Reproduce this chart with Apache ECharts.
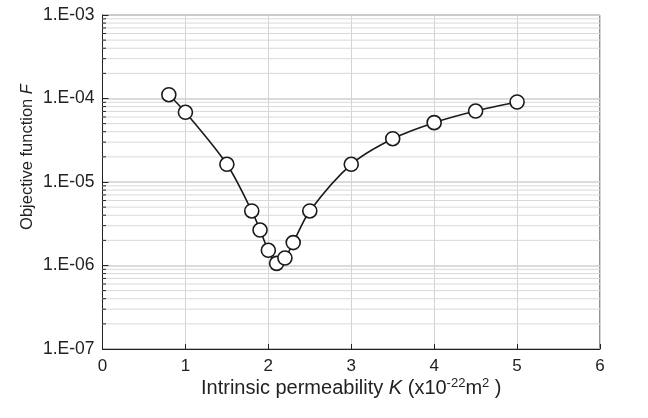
<!DOCTYPE html>
<html>
<head>
<meta charset="utf-8">
<script src="https://cdn.jsdelivr.net/npm/echarts@6/dist/echarts.min.js"></script>
<style>html,body{margin:0;padding:0;background:#fff}#c{width:648px;height:418px}</style>
</head>
<body>
<div id="c"></div>
<script>
const permeability = [0.8, 1.0, 1.5, 1.8, 1.9, 2.0, 2.1, 2.2, 2.3, 2.5, 3.0, 3.5, 4.0, 4.5, 5.0];
const objective = [1.11e-4, 6.84e-5, 1.63e-5, 4.5e-6, 2.66e-6, 1.52e-6, 1.06e-6, 1.23e-6, 1.88e-6, 4.5e-6, 1.63e-5, 3.3e-5, 5.14e-5, 7.08e-5, 9.08e-5];
const xTicks = [0, 1, 2, 3, 4, 5, 6];
const yDecades = [-7, -6, -5, -4, -3];
const minorMultipliers = [2, 3, 4, 5, 6, 7, 8, 9];

const minorValues = [];
for (let i = 0; i < yDecades.length - 1; i++) {
  for (const m of minorMultipliers) minorValues.push(m * Math.pow(10, yDecades[i]));
}

function fmtY(v) {
  const e = Math.round(Math.log10(v));
  const a = Math.abs(e);
  return '1.E' + (e < 0 ? '-' : '+') + (a < 10 ? '0' + a : a);
}

const FONT = '"Liberation Sans", Arial, sans-serif';
const xMin = xTicks[0], xMax = xTicks[xTicks.length - 1];
const chart = echarts.init(document.getElementById('c'), null, {renderer: 'canvas'});
chart.setOption({
  animation: false,
  grid: {left: 102.5, right: 48, top: 15, bottom: 69, show: true, borderColor: '#222', borderWidth: 1},
  xAxis: {
    type: 'value', min: xMin, max: xMax, interval: 1,
    axisLine: {lineStyle: {color: '#222', width: 1}},
    axisTick: {inside: true, length: 5, lineStyle: {color: '#222'}},
    axisLabel: {color: '#222', fontFamily: FONT, fontSize: 17, margin: 9},
    splitLine: {show: true, lineStyle: {color: '#d4d4d4', width: 1}},
    name: 'Intrinsic permeability {i|K} (x10{sup|-22}m{sup|2} )',
    nameLocation: 'middle', nameGap: 28, nameMoveOverlap: false,
    nameTextStyle: {
      color: '#222', fontFamily: FONT, fontSize: 20,
      rich: {
        i: {fontStyle: 'italic', fontFamily: FONT, fontSize: 20, color: '#222'},
        sup: {fontFamily: FONT, fontSize: 13, color: '#222', verticalAlign: 'top', padding: [0, 0, 9, 0]}
      }
    }
  },
  yAxis: {
    type: 'log', logBase: 10,
    min: Math.pow(10, yDecades[0]), max: Math.pow(10, yDecades[yDecades.length - 1]),
    axisLine: {lineStyle: {color: '#222', width: 1}},
    axisTick: {inside: true, length: 6, lineStyle: {color: '#222'}},
    axisLabel: {color: '#222', fontFamily: FONT, fontSize: 17.5, margin: 8, formatter: fmtY},
    splitLine: {show: true, lineStyle: {color: '#cfcfcf', width: 1.5}},
    name: 'Objective function {i|F}',
    nameLocation: 'middle', nameGap: 67, nameMoveOverlap: false,
    nameTextStyle: {
      color: '#222', fontFamily: FONT, fontSize: 16.5, padding: [0, 0, 0, 50],
      rich: {i: {fontStyle: 'italic', fontFamily: FONT, fontSize: 16.5, color: '#222'}}
    }
  },
  series: [
    {
      type: 'custom', silent: true, z: 1,
      data: minorValues,
      encode: {y: 0},
      renderItem: function (params, api) {
        const v = api.value(0);
        const p0 = api.coord([xMin, v]);
        const p1 = api.coord([xMax, v]);
        return {
          type: 'group',
          children: [
            {type: 'line', shape: {x1: p0[0], y1: p0[1], x2: p1[0], y2: p1[1]},
             style: {stroke: '#d9d9d9', lineWidth: 1}},
            {type: 'line', z2: 10, shape: {x1: p0[0], y1: p0[1], x2: p0[0] + 3.5, y2: p0[1]},
             style: {stroke: '#222', lineWidth: 1}}
          ]
        };
      }
    },
    {
      type: 'line', z: 5,
      data: permeability.map((k, i) => [k, objective[i]]),
      smooth: 0.3,
      symbol: 'circle', symbolSize: 14,
      itemStyle: {color: '#fff', borderColor: '#1a1a1a', borderWidth: 1.6},
      lineStyle: {color: '#1a1a1a', width: 1.6}
    }
  ]
});
</script>
</body>
</html>
